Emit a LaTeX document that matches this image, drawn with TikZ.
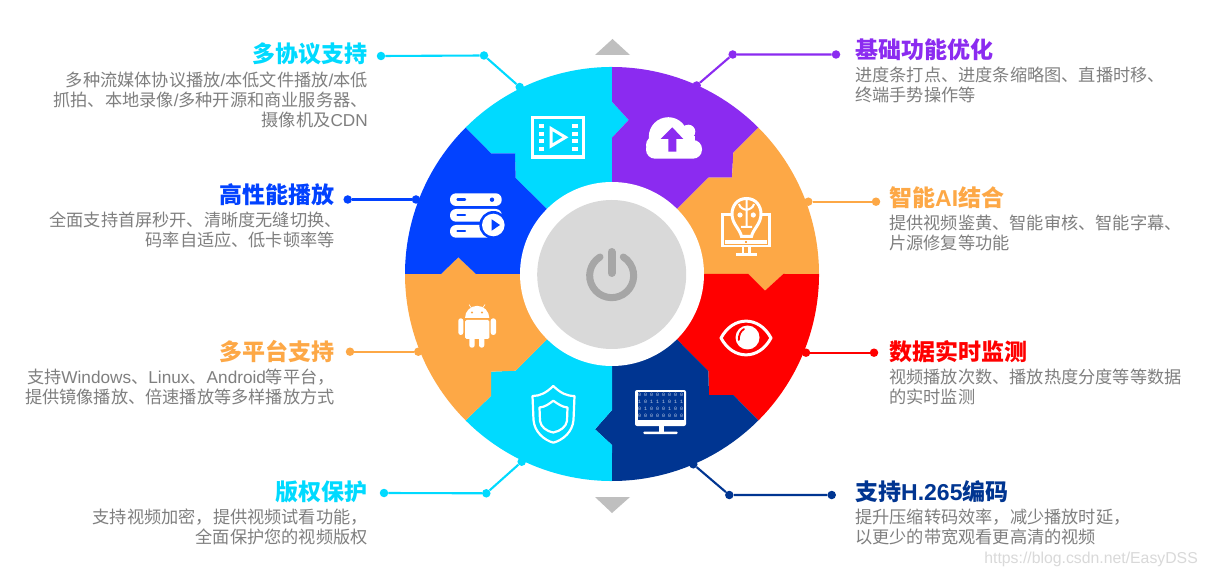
\documentclass[tikz,border=0pt]{standalone}
\usepackage{xcolor}
\usepackage{fontspec}
\setmainfont{Noto Sans CJK SC}
\newfontfamily\lat{Liberation Sans}
\newfontfamily\latmono{Liberation Mono}
\usepackage{tikz}
\definecolor{wheelcyan}{HTML}{00DAFF}
\definecolor{wheelpurple}{HTML}{8B2BF0}
\definecolor{wheelorange}{HTML}{FDA846}
\definecolor{wheelred}{HTML}{FF0000}
\definecolor{wheelnavy}{HTML}{003591}
\definecolor{wheelblue}{HTML}{0242FF}
\definecolor{bodygray}{HTML}{7F7F7F}
\tikzset{
  leadline/.style={line width=2.1pt},
  leaddot/.style={circle, fill, inner sep=0pt, minimum size=8.5pt},
  headtext/.style={inner sep=0pt, font=\fontsize{23}{23}\selectfont\bfseries},
  bodytext/.style={inner sep=0pt, bodygray, font=\fontsize{17.2}{20}\selectfont},
}

\begin{document}
\begin{tikzpicture}[x=1pt, y=1pt]
  \useasboundingbox (0,0) rectangle (1208,-577);
  \fill[white] (0,0) rectangle (1208,-577);

  % Wheel sectors
  \fill[wheelcyan] (465.6,-127.6) arc (135:90:207) -- (612,-101.7) -- (628.7,-120) -- (612,-137.7) -- (612,-274) -- (515.7,-178) -- (515,-153.3) -- (491,-153.3) -- cycle;
  \fill[wheelpurple] (612,-67) arc (90:45:207) -- (733.3,-152.7) -- (732,-177.7) -- (708.3,-177.7) -- (612,-274) -- (612,-137.7) -- (628.7,-120) -- (612,-101.7) -- cycle;
  \fill[wheelorange] (819,-274) arc (0:45:207) -- (733.3,-152.7) -- (732,-177.7) -- (708.3,-177.7) -- (612,-274) -- (748.3,-274) -- (765,-290.7) -- (783.3,-274) -- cycle;
  \fill[wheelred] (758.4,-420.4) arc (-45:0:207) -- (783.3,-274) -- (765,-290.7) -- (748.3,-274) -- (612,-274) -- (708.3,-371) -- (709,-395) -- (733.3,-395) -- cycle;
  \fill[wheelnavy] (612,-481) arc (270:315:207) -- (733.3,-395) -- (709,-395) -- (708.3,-371) -- (612,-274) -- (612,-410) -- (595,-429.3) -- (612,-445) -- cycle;
  \fill[wheelcyan] (465.6,-420.4) arc (225:270:207) -- (612,-445) -- (595,-429.3) -- (612,-410) -- (612,-274) -- (515.7,-370.7) -- (491,-371.7) -- (491,-396) -- cycle;
  \fill[wheelorange] (405,-274) arc (180:225:207) -- (491,-396) -- (491,-371.7) -- (515.7,-370.7) -- (612,-274) -- (476,-274) -- (458.3,-257.3) -- (441,-274) -- cycle;
  \fill[wheelblue] (405,-274) arc (180:135:207) -- (491,-153.3) -- (515,-153.3) -- (515.7,-178) -- (612,-274) -- (476,-274) -- (458.3,-257.3) -- (441,-274) -- cycle;

  % Centre button
  \fill[white] (612,-274) circle (92);
  \fill[black!15] (611.7,-274.5) circle (74.5);
  \draw[black!35, line width=7pt, line cap=round] (600,-257) arc (122:418:22);
  \draw[black!35, line width=8pt, line cap=round] (611.5,-252) -- (611.5,-273);

  % Up and down markers
  \fill[black!25] (595,-55) -- (612.5,-39) -- (630,-55) -- cycle;
  \fill[black!25] (595,-497) -- (630,-497) -- (612,-513) -- cycle;

  % Film icon
  \draw[white, line width=3.4pt] (532.7,-117.7) rectangle (583.3,-157);
  \foreach \y in {124,131.7,139.3,147} {
    \fill[white] (538.5,-\y) rectangle (544.3,-\y-4);
    \fill[white] (572,-\y) rectangle (577.7,-\y-4);
  }
  \draw[white, line width=3pt] (551,-128.5) -- (565.5,-137.3) -- (551,-146) -- cycle;

  % Cloud icon
  \fill[white] (668.3,-136.7) circle (19.5);
  \fill[white] (688.3,-131.7) circle (7);
  \fill[white, rounded corners=9pt] (646,-140) rectangle (702,-158.7);
  \fill[white] (655,-145) circle (9);
  \fill[white] (681,-136) rectangle (695,-150);
  \fill[wheelpurple] (672.3,-127.3) -- (683.3,-139) -- (676.3,-139) -- (676.3,-151.7) -- (668.3,-151.7) -- (668.3,-139) -- (660.7,-139) -- cycle;

  % Server icon
  \foreach \y in {193.3,209,225} {
    \fill[white, rounded corners=6pt] (450,-\y) rectangle (501.7,-\y-12.7);
    \draw[wheelblue, line width=2.4pt, line cap=round] (457.5,-\y-6.3) -- (465,-\y-6.3);
  }
  \fill[wheelblue] (492,-199.7) circle (2.2);
  \fill[wheelblue] (493.3,-225) circle (14);
  \fill[white] (493.3,-225) circle (11.3);
  \fill[wheelblue] (491.7,-219.3) -- (500,-225) -- (491.7,-230.7) -- cycle;

  % Robot head on monitor icon
  \draw[white, line width=2.8pt] (733,-214.5) -- (722.5,-214.5) -- (722.5,-246) -- (769.5,-246) -- (769.5,-214.5) -- (759,-214.5);
  \fill[white] (725,-240) rectangle (767,-244);
  \fill[wheelorange] (745.2,-241.2) rectangle (747,-242.8);
  \fill[white] (741.5,-247) rectangle (744,-254);
  \fill[white] (748,-247) rectangle (750.5,-254);
  \fill[white] (736,-252.7) rectangle (756.7,-256);
  \draw[white, line width=3pt, fill=wheelorange] (746.5,-198.5) .. controls (756,-198.5) and (761,-206) .. (761,-214) .. controls (761,-224) and (753,-229) .. (751.5,-236.5) -- (741.5,-236.5) .. controls (740,-229) and (732,-224) .. (732,-214) .. controls (732,-206) and (737,-198.5) .. (746.5,-198.5) -- cycle;
  \fill[white] (740,-215) circle (2.6);
  \fill[white] (753.3,-215) circle (2.6);
  \draw[white, line width=2pt] (746.5,-199) -- (746.5,-227) (741,-227) -- (752,-227) (739,-204) .. controls (740,-208) and (743,-209) .. (746.5,-210) (754,-204) .. controls (753,-208) and (750,-209) .. (746.5,-210);

  % Eye icon
  \draw[white, line width=3pt, line join=round] (721,-338) .. controls (733,-315.5) and (759,-315.5) .. (771,-338) .. controls (759,-360.5) and (733,-360.5) .. (721,-338) -- cycle;
  \fill[white] (747.5,-337.5) circle (12);
  \draw[wheelred, line width=1.8pt, line cap=round] (738.8,-340) .. controls (738.8,-335) and (740.5,-331) .. (744,-329);

  % Binary monitor icon
  \fill[white, rounded corners=2pt] (635,-390) rectangle (686,-426);
  \fill[wheelnavy] (637.5,-392.3) rectangle (683.5,-420);
  \foreach \rowy/\digits in {395/0 0 0 0 0 0 0 0, 402/1 0 1 1 1 0 1 1, 409.3/0 1 0 0 0 1 0 0, 416.3/0 0 0 0 0 0 0 0} {
    \node[white!75!wheelnavy, inner sep=0pt, font=\fontsize{5}{5}\selectfont\latmono] (bin\rowy) at (660.5,-\rowy) {\digits};
  }
  \fill[white] (659,-426) rectangle (664,-432);
  \fill[white, rounded corners=1pt] (643.3,-431.5) rectangle (677.7,-434);

  % Shield icon
  \draw[white, line width=2.2pt, line join=round] (553.3,-386) .. controls (546,-393) and (540,-396) .. (532.5,-396) -- (533.5,-420) .. controls (534.5,-432) and (544,-440) .. (553.3,-442.7) .. controls (563,-440) and (572.5,-432) .. (573.5,-420) -- (574.5,-396) .. controls (566.5,-396) and (560.5,-393) .. (553.3,-386) -- cycle;
  \draw[white, line width=2.2pt, line join=round] (553.3,-400.7) .. controls (549,-404) and (545,-407) .. (539.5,-407.5) -- (540,-421) .. controls (541,-427) and (546,-431) .. (553.3,-432.5) .. controls (560.5,-431) and (566,-427) .. (567,-421) -- (567.5,-407.5) .. controls (562,-407) and (558,-404) .. (553.3,-400.7) -- cycle;

  % Android icon
  \fill[white] (465,-318) arc (180:0:12.15) -- cycle;
  \fill[white, rounded corners=1.5pt] (465,-320) rectangle (489.3,-339);
  \fill[white, rounded corners=2.5pt] (458.3,-318.3) rectangle (463.3,-335);
  \fill[white, rounded corners=2.5pt] (490.7,-318.3) rectangle (496,-335);
  \fill[white, rounded corners=2.5pt] (469.3,-336) rectangle (474.7,-347.7);
  \fill[white, rounded corners=2.5pt] (479,-336) rectangle (484.3,-347.7);
  \draw[white, line width=.6pt] (469,-304.5) -- (471.7,-308.5) (485,-304.5) -- (482.3,-308.5);
  \fill[wheelorange] (472,-312.5) circle (1.1);
  \fill[wheelorange] (482,-312.5) circle (1.1);

  % Lead lines
  \node[leaddot, wheelcyan] (protoa) at (381,-56) {};
  \node[leaddot, wheelcyan] (protob) at (484,-55.5) {};
  \node[leaddot, wheelcyan] (protoc) at (519.7,-87) {};
  \draw[leadline, wheelcyan] (protoa) -- (protob) -- (protoc);
  \node[leaddot, wheelpurple] (basea) at (836,-54.5) {};
  \node[leaddot, wheelpurple] (baseb) at (732.7,-54.5) {};
  \node[leaddot, wheelpurple] (basec) at (696.7,-85.5) {};
  \draw[leadline, wheelpurple] (basea) -- (baseb) -- (basec);
  \node[leaddot, wheelblue] (perfa) at (347.7,-199.5) {};
  \node[leaddot, wheelblue] (perfb) at (416,-199.5) {};
  \draw[leadline, wheelblue] (perfa) -- (perfb);
  \node[leaddot, wheelorange] (smarta) at (876,-201.7) {};
  \node[leaddot, wheelorange] (smartb) at (808.3,-201.7) {};
  \draw[leadline, wheelorange] (smarta) -- (smartb);
  \node[leaddot, wheelorange] (multia) at (350,-351.7) {};
  \node[leaddot, wheelorange] (multib) at (418.3,-351.7) {};
  \draw[leadline, wheelorange] (multia) -- (multib);
  \node[leaddot, wheelred] (monia) at (874,-352.7) {};
  \node[leaddot, wheelred] (monib) at (806,-352.7) {};
  \draw[leadline, wheelred] (monia) -- (monib);
  \node[leaddot, wheelcyan] (righta) at (384,-493) {};
  \node[leaddot, wheelcyan] (rightb) at (486.3,-493.3) {};
  \node[leaddot, wheelcyan] (rightc) at (521.7,-461.7) {};
  \draw[leadline, wheelcyan] (righta) -- (rightb) -- (rightc);
  \node[leaddot, wheelnavy] (codeca) at (831.7,-495) {};
  \node[leaddot, wheelnavy] (codecb) at (729.3,-495) {};
  \node[leaddot, wheelnavy] (codecc) at (693.3,-464.3) {};
  \draw[leadline, wheelnavy] (codeca) -- (codecb) -- (codecc);

  % Left side labels
  \node[headtext, wheelcyan, anchor=east] (prototitle) at (368,-54) {多协议支持};
  \node[bodytext, align=right, anchor=north east] (protobody) at (368,-71.5) {多种流媒体协议播放{\lat /}本低文件播放{\lat /}本低\\抓拍、本地录像{\lat /}多种开源和商业服务器、\\摄像机及{\lat CDN}};
  \node[headtext, wheelblue, anchor=east] (perftitle) at (335,-195) {高性能播放};
  \node[bodytext, align=right, anchor=north east] (perfbody) at (335,-212) {全面支持首屏秒开、清晰度无缝切换、\hspace*{-7pt}\\码率自适应、低卡顿率等};
  \node[headtext, wheelorange, anchor=east] (multititle) at (335,-352) {多平台支持};
  \node[bodytext, align=right, anchor=north east] (multibody) at (335,-369) {支持{\lat Windows}、{\lat Linux}、{\lat Android}等平台，\\提供镜像播放、倍速播放等多样播放方式};
  \node[headtext, wheelcyan, anchor=east] (righttitle) at (368,-492) {版权保护};
  \node[bodytext, align=right, anchor=north east] (rightbody) at (368,-509) {支持视频加密，提供视频试看功能，\\全面保护您的视频版权};

  % Right side labels
  \node[headtext, wheelpurple, anchor=west] (basetitle) at (855,-50) {基础功能优化};
  \node[bodytext, align=left, anchor=north west] (basebody) at (855,-67) {进度条打点、进度条缩略图、直播时移、\\终端手势操作等};
  \node[headtext, wheelorange, anchor=west] (smarttitle) at (889,-198) {智能{\lat AI}结合};
  \node[bodytext, align=left, anchor=north west] (smartbody) at (889,-215) {提供视频鉴黄、智能审核、智能字幕、\\片源修复等功能};
  \node[headtext, wheelred, anchor=west] (monititle) at (889,-352) {数据实时监测};
  \node[bodytext, align=left, anchor=north west] (monibody) at (889,-369) {视频播放次数、播放热度分度等等数据\\的实时监测};
  \node[headtext, wheelnavy, anchor=west] (codectitle) at (855,-492) {支持{\lat H.265}编码};
  \node[bodytext, align=left, anchor=north west] (codecbody) at (855,-509) {提升压缩转码效率，减少播放时延，\\以更少的带宽观看更高清的视频};

  % Watermark
  \node[black!15, inner sep=0pt, anchor=east, font=\fontsize{15.8}{16}\selectfont\lat] (mark) at (1198,-559) {https://blog.csdn.net/EasyDSS};
\end{tikzpicture}
\end{document}
